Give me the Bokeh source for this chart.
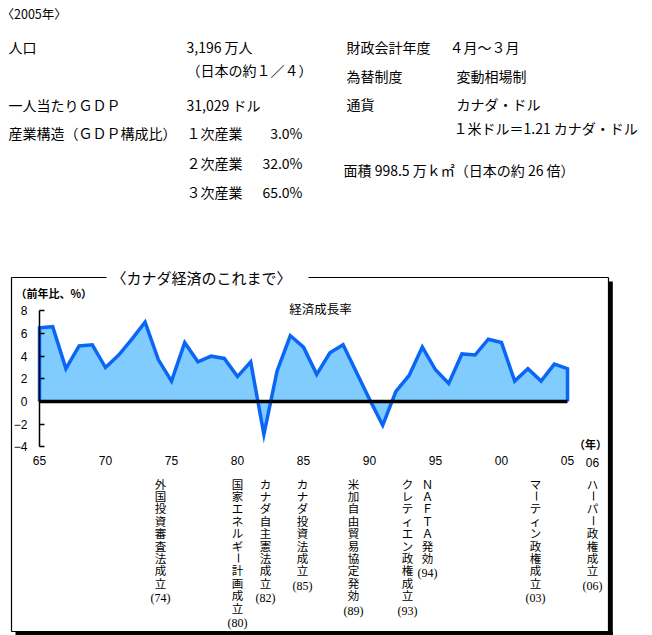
import math
from bokeh.plotting import figure
from bokeh.models import Range1d, LinearAxis, FixedTicker, ColumnDataSource
from bokeh.core.properties import value
from bokeh.embed import file_html
from bokeh.resources import INLINE

# ---------------- data ----------------
YEARS = list(range(1965, 2006))
GROWTH = [6.5, 6.6, 2.9, 4.9, 5.0, 3.0, 4.1, 5.5, 7.0, 3.7,
          1.8, 5.2, 3.5, 4.0, 3.8, 2.2, 3.5, -2.9, 2.7, 5.8,
          4.8, 2.4, 4.3, 5.0, 2.6, 0.2, -2.1, 0.9, 2.3, 4.8,
          2.8, 1.6, 4.2, 4.1, 5.5, 5.2, 1.8, 2.9, 1.8, 3.3, 2.9]
Y_TICKS = [-4, -2, 0, 2, 4, 6, 8]
X_TICKS = [1965, 1970, 1975, 1980, 1985, 1990, 1995, 2000, 2005]
X_TICK_LABELS = ["65", "70", "75", "80", "85", "90", "95", "00", "05"]
EXTRA_TICK_LABEL = "06"

EVENTS = ["外国投資審査法成立", "国家エネルギー計画成立", "カナダ自主憲法成立",
          "カナダ投資法成立", "米加自由貿易協定発効", "クレティエン政権成立",
          "ＮＡＦＴＡ発効", "マーティン政権成立", "ハーパー政権成立"]
EVENT_YEARS = ["(74)", "(80)", "(82)", "(85)", "(89)", "(93)", "(94)", "(03)", "(06)"]

INDUSTRY = ["１次産業", "２次産業", "３次産業"]
INDUSTRY_SHARE = [3.0, 32.0, 65.0]

# ---------------- layout (image pixel space) ----------------
W, H = 652, 635
OX, OY = 0, 0
X0_PX, PX_PER_YEAR = 39.0, 13.2
Y0_PX, PX_PER_UNIT = 401.0, 11.33
EVENT_X_PX = [160, 237, 265, 302, 353, 407, 427, 535, 592]

x_start = 1965 - (X0_PX - OX) / PX_PER_YEAR
x_end = x_start + W / PX_PER_YEAR
y_end = (Y0_PX - OY) / PX_PER_UNIT
y_start = y_end - H / PX_PER_UNIT

JP = value("Noto Sans CJK JP")

p = figure(width=W, height=H, x_range=Range1d(x_start, x_end), y_range=Range1d(y_start, y_end),
           output_backend="svg", toolbar_location=None,
           x_axis_location=None, y_axis_location=None, min_border=0,
           outline_line_color=None, background_fill_color="white", border_fill_color="white")
p.grid.visible = False
p.extra_x_ranges["px"] = Range1d(OX, OX + W)
p.extra_y_ranges["px"] = Range1d(OY + H, OY)

PX = dict(x_range_name="px", y_range_name="px")


def put(x, y, s, size="14px", align="left", font=JP, style="normal", angle=0.0):
    p.text(x=[x], y=[y], text=[s], angle=[angle], text_font=font, text_font_size=size,
           text_align=align, text_baseline="middle", text_color="black",
           text_font_style=style, **PX)


# ---------------- header ----------------
put(1, 13, "〈2005年〉", size="12.5px")
put(8, 46, "人口")
put(186, 46, "3,196 万人")
put(186, 69, "（日本の約１／４）")
put(8, 104, "一人当たりＧＤＰ")
put(186, 104, "31,029 ドル")
put(8, 132, "産業構造（ＧＤＰ構成比）")
for i, (name, share) in enumerate(zip(INDUSTRY, INDUSTRY_SHARE)):
    yy = [132, 162, 191][i]
    put(186, yy, name)
    put(302, yy, f"{share:.1f}%", align="right")

put(346, 46, "財政会計年度")
put(449, 46, "４月～３月")
put(456, 75, "変動相場制")
put(346, 75, "為替制度")
put(346, 103, "通貨")
put(456, 103, "カナダ・ドル")
put(453, 127, "１米ドル＝1.21 カナダ・ドル")
put(343, 169, "面積 998.5 万ｋ㎡（日本の約 26 倍）")

# ---------------- box ----------------
p.segment(x0=[11, 11, 308, 11, 608], y0=[277, 277, 277, 631, 277],
          x1=[11, 106, 608, 608, 608], y1=[631, 277, 277, 631, 631],
          line_color="black", line_width=1.2, **PX)
p.segment(x0=[610.3, 15], y0=[281, 632.8], x1=[610.3, 612.3], y1=[635, 632.8],
          line_color="black", line_width=4, **PX)

put(201, 277, "〈カナダ経済のこれまで〉", size="15px", align="center")
put(15, 292, "（前年比、%）", size="11px", style="bold")
put(320, 308, "経済成長率", size="12.5px", align="center")
put(590, 443, "（年）", size="11px", align="center", style="bold")
put(592, 462, EXTRA_TICK_LABEL, size="12px", align="center", font=value("Liberation Sans"))

# ---------------- data marks ----------------
p.varea(x=YEARS, y1=[0] * len(YEARS), y2=GROWTH, fill_color="#80CCFF")
p.line(x=[YEARS[0]] + YEARS + [YEARS[-1]], y=[0] + GROWTH + [0],
       line_color="#0A66F5", line_width=3.5, line_join="miter")
p.line(x=[YEARS[0], YEARS[-1]], y=[0, 0], line_color="black", line_width=3.5)

yaxis = LinearAxis(fixed_location=1965, ticker=FixedTicker(ticks=Y_TICKS), bounds=(-4, 8),
                   axis_line_color="black", axis_line_width=1.5,
                   major_tick_in=5, major_tick_out=0, major_tick_line_width=1.5,
                   minor_tick_line_color=None, major_label_standoff=12,
                   major_label_text_font="Liberation Sans", major_label_text_font_size="12px",
                   major_label_text_color="black")
p.add_layout(yaxis, "left")

xaxis = LinearAxis(fixed_location=-4, ticker=FixedTicker(ticks=X_TICKS),
                   axis_line_color=None, major_tick_line_color=None, minor_tick_line_color=None,
                   major_tick_in=0, major_tick_out=0, major_label_standoff=9,
                   major_label_overrides={t: l for t, l in zip(X_TICKS, X_TICK_LABELS)},
                   major_label_text_font="Liberation Sans", major_label_text_font_size="12px",
                   major_label_text_color="black")
p.add_layout(xaxis, "below")

# ---------------- vertical event annotations ----------------
STEP = 12.4
TOP = 483
xs, ys, ts, angs = [], [], [], []
for ev, yr, xpx in zip(EVENTS, EVENT_YEARS, EVENT_X_PX):
    for j, ch in enumerate(ev):
        xs.append(xpx)
        ys.append(TOP + j * STEP)
        ts.append(ch)
        angs.append(math.pi / 2 if ch == "ー" else 0.0)
    put(xpx, TOP + (len(ev) - 1) * STEP + 15.5, yr, size="12px", align="center",
        font=value("Liberation Serif"))
src = ColumnDataSource(dict(x=xs, y=ys, text=ts, angle=angs))
p.text(x="x", y="y", text="text", angle="angle", source=src, text_font=JP,
       text_font_size="11.5px", text_align="center", text_baseline="middle",
       text_color="black", **PX)

open("out.html", "w").write(file_html(p, INLINE))
